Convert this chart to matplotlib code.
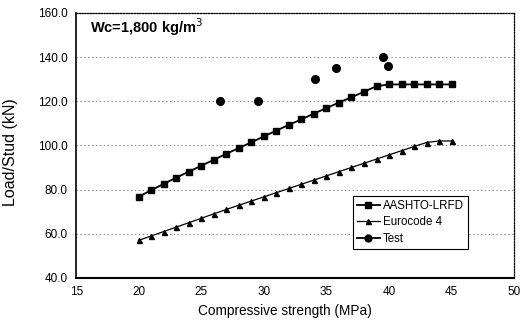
import matplotlib
matplotlib.use('Agg')
import matplotlib.pyplot as plt
from matplotlib.lines import Line2D

plt.rcParams['font.family'] = ['Liberation Sans', 'DejaVu Sans']

strength = [20, 21, 22, 23, 24, 25, 26, 27, 28, 29, 30, 31, 32, 33,
            34, 35, 36, 37, 38, 39, 40, 41, 42, 43, 44, 45]
aashto = [76.8, 79.7, 82.6, 85.4, 88.1, 90.8, 93.5, 96.2, 98.8, 101.4,
          104.1, 106.7, 109.3, 111.8, 114.4, 116.9, 119.4, 121.8, 124.3,
          126.8, 127.6, 127.6, 127.6, 127.6, 127.6, 127.6]
eurocode = [57.0, 59.0, 61.0, 63.0, 65.0, 67.0, 69.0, 71.0, 72.9, 74.8,
            76.7, 78.6, 80.5, 82.4, 84.3, 86.2, 88.1, 90.0, 91.9, 93.8,
            95.7, 97.6, 99.5, 101.3, 102.0, 102.0]
test_x = [26.5, 29.5, 34.1, 35.8, 39.5, 39.9]
test_y = [120.0, 120.0, 130.0, 135.0, 140.0, 136.0]

fig = plt.figure(figsize=(5.22, 3.22), dpi=100)
ax = fig.add_axes([0.146, 0.137, 0.839, 0.823])

ax.plot(strength, aashto, color='black', lw=1.3, marker='s', ms=4.5,
        label='AASHTO-LRFD')
ax.plot(strength, eurocode, color='black', lw=0.9, marker='^', ms=3.6,
        label='Eurocode 4')
ax.plot(test_x, test_y, color='black', lw=0, marker='o', ms=5.5,
        label='Test')

ax.set_xlim(15, 50)
ax.set_ylim(40, 160)
ax.set_xticks(range(15, 51, 5))
ax.set_yticks(range(40, 161, 20))
ax.set_yticklabels(['%.1f' % v for v in range(40, 161, 20)])
ax.tick_params(length=0, labelsize=8.5, pad=6)
ax.yaxis.grid(True, color='#888888', linestyle=(0, (1.5, 2.5)), lw=0.7)
ax.set_axisbelow(True)

for side in ['top', 'right']:
    ax.spines[side].set_linestyle((0, (1, 1.2)))
    ax.spines[side].set_linewidth(0.9)
ax.spines['left'].set_linewidth(1.2)
ax.spines['bottom'].set_linewidth(1.5)

ax.set_xlabel('Compressive strength (MPa)', fontsize=9.8)
ax.xaxis.set_label_coords(0.477, -0.1)
ax.set_ylabel('Load/Stud (kN)', fontsize=11.5)
ax.yaxis.set_label_coords(-0.132, 0.475)

ax.text(16.1, 153.5, 'Wc=1,800 kg/m$^3$', fontsize=10.5, fontweight='bold',
        va='center')

handles = [Line2D([], [], color='black', lw=1.3, marker='s', ms=4.5),
           Line2D([], [], color='black', lw=0.9, marker='^', ms=3.6),
           Line2D([], [], color='black', lw=1.3, marker='o', ms=5)]
leg = ax.legend(handles, ['AASHTO-LRFD', 'Eurocode 4', 'Test'],
                loc='lower right', bbox_to_anchor=(0.895, 0.11),
                fontsize=8.3, frameon=True, fancybox=False, framealpha=1,
                edgecolor='black', handlelength=2.0, handletextpad=0.3,
                labelspacing=0.38, borderpad=0.35, borderaxespad=0)
leg.get_frame().set_linewidth(0.8)

fig.savefig('out.png', dpi=100)
